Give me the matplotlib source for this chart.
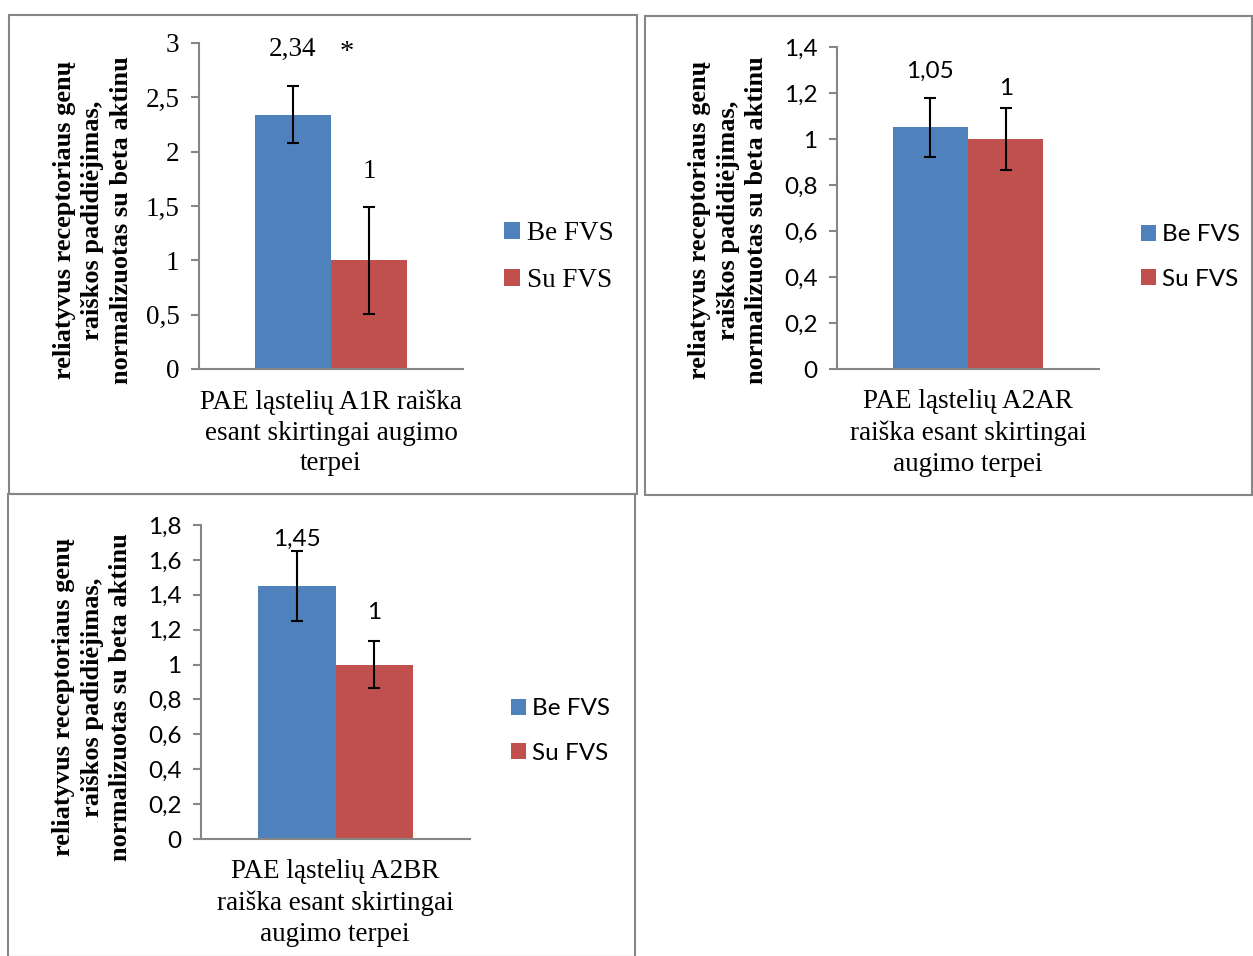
import matplotlib
matplotlib.use("Agg")
import matplotlib.pyplot as plt
from matplotlib.patches import Rectangle
from matplotlib.ticker import FuncFormatter

# duomenys (nuskaityta is paveikslo)
series = ["Be FVS", "Su FVS"]
colors = ["#4F81BD", "#C0504D"]

a1r_vals = [2.34, 1.0]
a1r_err = [0.26, 0.49]
a1r_labels = ["2,34", "1"]
a1r_star = ["*", ""]

a2ar_vals = [1.05, 1.0]
a2ar_err = [0.13, 0.134]
a2ar_labels = ["1,05", "1"]

a2br_vals = [1.45, 1.0]
a2br_err = [0.20, 0.135]
a2br_labels = ["1,45", "1"]

cat_a1r = "PAE ląstelių A1R raiška\nesant skirtingai augimo\nterpei"
cat_a2ar = "PAE ląstelių A2AR\nraiška esant skirtingai\naugimo terpei"
cat_a2br = "PAE ląstelių A2BR\nraiška esant skirtingai\naugimo terpei"

ylabel = "reliatyvus receptoriaus genų\nraiškos padidiėjimas,\nnormalizuotas su beta aktinu"

W, H = 1253, 956
SERIF = "Liberation Serif"
SANS = "Lato"
GRAY = "#868686"

fig = plt.figure(figsize=(W / 100, H / 100), dpi=100)


def px(x, y):
    return x / W, 1 - y / H


def comma(v, pos):
    return f"{v:g}".replace(".", ",")


def panel(rect, vals, errs, labels, offs, ymax, ystep, tickfont, ticksize,
          cat, cat_center, ylab_center, leg_anchor, legfont, legsize, legspace, star=None):
    l, t, r, b = rect
    ax = fig.add_axes([l / W, 1 - b / H, (r - l) / W, (b - t) / H])
    bw = 0.288
    xs = [-bw / 2, bw / 2]
    for i in range(2):
        ax.bar(xs[i], vals[i], bw, color=colors[i], label=series[i], zorder=2)
        ax.errorbar(xs[i], vals[i], yerr=errs[i], fmt="none", ecolor="black",
                    elinewidth=1.5, capsize=4.5, capthick=1.5, zorder=3)
        ax.annotate(labels[i], xy=(xs[i], vals[i] + errs[i]),
                    xytext=(0, offs[i] * 0.72), textcoords="offset points",
                    ha="center", va="center", family=tickfont, fontsize=ticksize)
        if star and star[i]:
            ax.annotate(star[i], xy=(xs[i], vals[i] + errs[i]),
                        xytext=(39, offs[i] * 0.72 - 2), textcoords="offset points",
                        ha="center", va="center", family=SERIF, fontsize=ticksize + 1)
    ax.set_xlim(-0.5, 0.5)
    ax.set_ylim(0, ymax)
    ticks = [i * ystep for i in range(int(round(ymax / ystep)) + 1)]
    ax.set_yticks(ticks)
    ax.yaxis.set_major_formatter(FuncFormatter(comma))
    for lab in ax.get_yticklabels():
        lab.set_family(tickfont)
        lab.set_fontsize(ticksize)
    ax.set_xticks([])
    for s in ["top", "right"]:
        ax.spines[s].set_visible(False)
    for s in ["left", "bottom"]:
        ax.spines[s].set_color(GRAY)
        ax.spines[s].set_linewidth(1.5)
    ax.tick_params(axis="y", direction="out", length=6, width=1.5, color=GRAY, pad=8)

    cx, cy = px(*cat_center)
    fig.text(cx, cy, cat, ha="center", va="center", family=SERIF,
             fontsize=19.5, linespacing=1.3)
    lx, ly = px(*ylab_center)
    fig.text(lx, ly, ylabel, ha="center", va="center", rotation=90,
             family=SERIF, fontweight="bold", fontsize=19, linespacing=1.28)

    gx, gy = px(*leg_anchor)
    ax.legend(loc="center left", bbox_to_anchor=(gx, gy), bbox_transform=fig.transFigure,
              frameon=False, borderpad=0, borderaxespad=0, handlelength=0.6,
              handleheight=0.6, handletextpad=0.25, labelspacing=legspace,
              prop={"family": legfont, "size": legsize})
    return ax


panel((199, 43, 463, 369), a1r_vals, a1r_err, a1r_labels, [37, 36], 3, 0.5,
      SERIF, 19.5, cat_a1r, (331, 433), (93, 220), (504, 257), SERIF, 19.5, 0.8,
      star=a1r_star)
panel((837, 47, 1099, 369), a2ar_vals, a2ar_err, a2ar_labels, [26, 20], 1.4, 0.2,
      SANS, 17.5, cat_a2ar, (968, 433), (728, 220), (1141, 257), SANS, 17.5, 0.95)
panel((201, 525, 470, 839), a2br_vals, a2br_err, a2br_labels, [12, 29], 1.8, 0.2,
      SANS, 17.5, cat_a2br, (335, 903), (92, 697), (511, 731), SANS, 17.5, 0.95)

# remeliai aplink diagramas
for (x0, y0, x1, y1) in [(9, 15, 637, 494), (645, 16, 1252, 495), (8, 494, 635, 957)]:
    fx, fy = px(x0, y1)
    fig.add_artist(Rectangle((fx, fy), (x1 - x0) / W, (y1 - y0) / H,
                             transform=fig.transFigure, fill=False,
                             edgecolor=GRAY, linewidth=1.5))

fig.savefig("out.png", dpi=100)
